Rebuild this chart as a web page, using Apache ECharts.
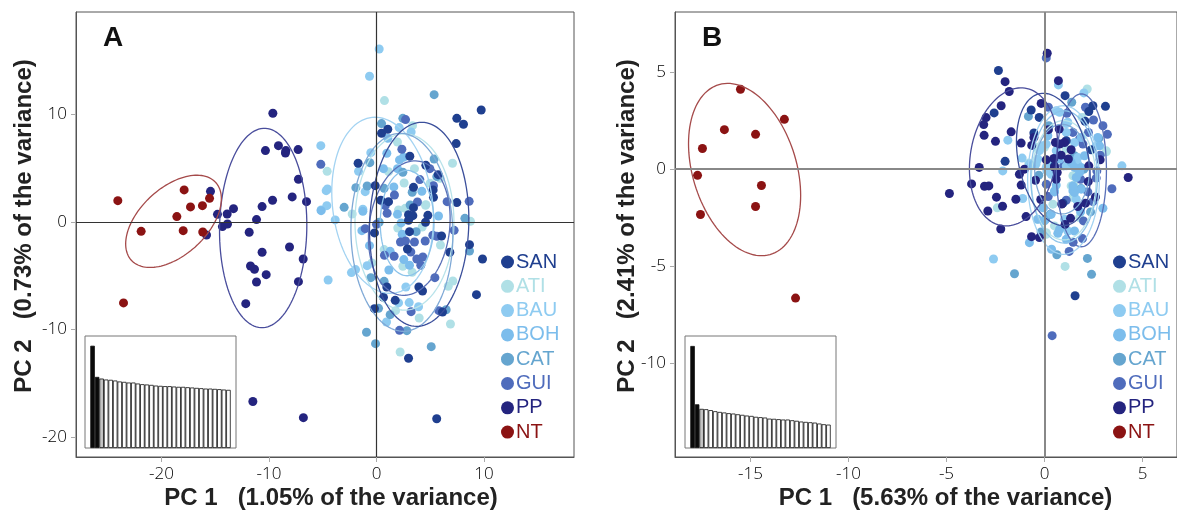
<!DOCTYPE html>
<html><head><meta charset="utf-8">
<style>html,body{margin:0;padding:0;background:#fff}#c{width:1177px;height:510px}</style>
<script src="https://cdn.jsdelivr.net/npm/echarts@6/dist/echarts.min.js"></script>
</head><body><div id="c"></div>
<script>
const groupNames = ['SAN','ATI','BAU','BOH','CAT','GUI','PP','NT'];
const xTicksA = [-20,-10,0,10];
const yTicksA = [-20,-10,0,10];
const xTicksB = [-15,-10,-5,0,5];
const yTicksB = [-10,-5,0,5];

const ntA = [[-24.06,1.98],[-17.89,2.98],[-15.53,2.2],[-17.3,1.4],[-16.19,1.52],[-18.57,0.5],[-21.89,-0.87],[-17.98,-0.81],[-16.16,-0.93],[-23.53,-7.53]];
const ppA = [[-9.64,10.11],[-9.12,7.1],[-10.33,6.64],[-8.43,6.64],[-8.47,6.42],[-7.29,6.73],[-7.26,3.97],[-7.84,2.33],[-9.67,2.02],[-6.51,1.89],[-10.64,1.43],[-13.3,1.24],[-15.44,2.85],[-14.79,0.71],[-13.89,0.74],[-11.16,0.22],[-14.33,-0.43],[-13.86,-0.19],[-15.81,-1.21],[-11.84,-0.96],[-8.09,-2.33],[-10.64,-2.82],[-6.82,-3.44],[-11.72,-4.09],[-11.35,-4.4],[-10.26,-4.9],[-11.16,-5.58],[-7.26,-5.55],[-12.16,-7.6],[-11.5,-16.7],[-6.8,-18.2]];
const sanA = [[9.74,10.42],[7.47,9.64],[8.09,9.09],[0.47,8.25],[1.05,8.62],[7.41,7.29],[-1.71,5.46],[3.1,6.11],[4.59,5.27],[5.74,4.4],[-0.12,3.38],[3.44,3.22],[5.27,2.98],[5.3,2.29],[7.47,1.8],[0.4,2.02],[1.12,1.89],[3.44,1.33],[2.98,0.68],[3.38,0.59],[2.98,0.16],[4.78,0.62],[4.56,-0.03],[3.07,-0.9],[-0.19,-1.02],[6.05,-1.3],[2.88,-2.51],[8.65,-2.11],[6.82,-2.82],[9.86,-3.44],[3.94,-6.05],[4.28,-6.42],[0.96,-6.05],[0.65,-7.01],[1.74,-7.29],[-0.19,-8.06],[6.14,-8.37],[9.3,-6.76],[2.98,-12.68],[5.6,-18.3]];
const guiA = [[2.7,9.52],[-5.18,5.36],[2.36,6.76],[4.96,4.96],[4.03,3.94],[1.67,2.51],[5.3,3.38],[6.57,1.89],[8.62,1.92],[3.81,1.86],[0.81,1.52],[0.99,0.81],[0,-0.22],[-1.05,-0.62],[2.23,-1.86],[2.7,-1.77],[3.53,-1.86],[4.53,-1.77],[5.24,-1.24],[5.61,-1.33],[7.22,-0.78],[0.74,-3.1],[1.64,-3.19],[3.19,-2.79],[3.75,-3.44],[4.31,-3.26],[4.12,-4.03],[5.43,-5.18],[3.22,-8.34],[5.8,-8.25],[2.14,-10.08]];
const catA = [[5.36,11.84],[0.47,9.15],[2.45,9.64],[-0.62,5.52],[5.36,5.86],[2.45,4.62],[-1.92,3.19],[-0.87,3.35],[0.71,3.13],[3.32,2.76],[-3.01,1.36],[3.13,1.58],[5.61,4.22],[8.22,0.34],[0.25,-0.03],[3.69,-0.9],[8.65,-2.7],[-0.53,-5.18],[0.71,-5.52],[0.19,-8.03],[1.27,-8.62],[2.82,-10.11],[-0.93,-10.26],[-0.09,-11.32],[5.09,-11.6],[6.48,-8.16]];
const atiA = [[0.74,11.29],[3.35,8.96],[1.95,7.44],[7.07,5.46],[-4.59,4.71],[3.53,4.96],[2.57,3.63],[5.92,4.06],[4.56,1.55],[2.05,1.12],[2.67,1.27],[4.99,3.6],[1.12,4.68],[-2.26,0.74],[8.74,0.06],[4.59,1.61],[1.98,-0.56],[4.25,-0.47],[5.95,-2.14],[0.71,-2.57],[2.45,-4.12],[3.32,-4.68],[7.1,-5.49],[6.67,-5.98],[1.77,-8.25],[3.97,-8.93],[6.88,-9.49],[2.2,-12.09],[-0.43,-3.81]];
const bauA = [[0.25,16.09],[-0.65,13.55],[-5.18,7.1],[-1.67,4.71],[-0.53,6.45],[2.11,8.78],[3.22,8.37],[-4.68,2.91],[-4.56,3.07],[-4.62,1.52],[-1.05,2.82],[-5.15,1.12],[-1.27,1.18],[-3.84,0.19],[-2.33,-4.71],[-1.95,-4.43],[-4.5,-5.4],[-0.87,-4.06],[2.73,-6.05],[3.04,-7.5],[3.91,-7.88],[0.93,-9.3],[2.05,-7.53]];
const bohA = [[0.96,6.39],[1.05,7.78],[0.65,4.96],[2.14,5.77],[1.95,4.96],[1.61,3.26],[4.22,2.85],[2.51,6.02],[1.95,0.71],[5.77,0.56],[-5.15,1.05],[-1.36,-0.81],[-1.27,0.99],[3.07,-4.03],[1.15,-4.47],[2.54,-3.5],[1.27,-2.73],[2.29,-0.09],[-0.65,-2.2],[2.39,-1.15]];

const ntB = [[-15.51,4.11],[-16.33,2.03],[-14.74,1.79],[-13.27,2.56],[-17.45,1.06],[-17.7,-0.32],[-14.44,-0.84],[-14.74,-1.92],[-17.55,-2.33],[-12.7,-6.63]];
const ppB = [[0.14,5.96],[0.71,4.55],[-2.01,4.5],[-1.8,3.99],[-2.21,3.26],[-2.98,2.65],[-3.1,2.29],[-3.08,1.74],[-1.7,1.92],[-2.5,1.43],[-1.19,1.34],[-0.65,1.22],[-0.17,3.38],[-3.33,0.09],[-1.02,0],[0.48,0.55],[0.09,0.48],[0.56,1.37],[1.02,1.37],[0.77,1.29],[1.36,1],[0.85,0.72],[1.22,0.52],[0.51,0.09],[0.75,2.06],[0.2,2.03],[-0.54,1.63],[2.26,0.17],[2.84,0.48],[-4.85,-1.25],[-3.72,-0.76],[-3.06,-0.88],[-2.84,-0.86],[-2.45,-1.44],[-2.89,-2.15],[-2.14,-1.91],[-1.46,-1.55],[-1.19,-0.82],[-0.46,-0.57],[-0.19,-1.56],[-0.94,-2.44],[-2.23,-3.08],[-0.66,-3.47],[-0.26,-3.52],[-1.28,-0.26],[0.6,-0.52],[0.88,-1.79],[1.33,-2.53],[1.05,-2.84],[1.7,-1.92],[2.09,-1.75],[2.6,-1.43],[2.23,-0.64],[4.27,-0.43],[0.65,-0.17]];
const sanB = [[-2.35,5.07],[-2.57,2.89],[-2.01,0.4],[-0.68,3.04],[-0.27,2.66],[1.05,3.78],[2.47,3.26],[3.11,3.23],[2.26,2.96],[2.07,2.46],[2.38,1],[-0.54,1.86],[1.11,1.46],[1.56,-6.51],[0.94,-1.75],[0.51,0.17]];
const guiB = [[0.09,5.72],[0.2,3.18],[2.09,3.18],[2.5,2.53],[1.14,2.87],[2.98,2.23],[3.21,1.79],[2.24,1.89],[1.45,1.89],[1.79,1.55],[1.96,1.29],[0.97,0.17],[2.67,-0.09],[2.84,0.72],[0.39,-8.56],[3.44,-1.01],[1.11,-1.6],[0.19,-1.41],[0.09,-0.77],[1.94,-3.57],[1.46,-3.76],[1.26,-4.23],[1.99,-2.66],[2.47,-1.67],[1.84,-0.52],[2.64,-0.46],[2.21,-1.17]];
const catB = [[-0.82,2.71],[1.39,3.44],[0.22,2.23],[2.77,1.58],[1.53,0.69],[2.01,0],[-1.53,-5.38],[2.19,-4.59],[2.4,-5.41],[0.63,-4.4],[-0.17,-3.23],[0.29,-2.32],[0.05,-2.58],[1.87,-1],[2.35,-2.2],[-0.29,-0.31]];
const bauB = [[0.71,4.33],[2.01,3.92],[-1.87,1.49],[-1.14,0.57],[-2.13,-0.09],[3.95,0.17],[0.77,2.92],[1.11,2.35],[0.09,1.29],[-0.26,0.95],[0.6,0.95],[1.11,0.17],[1.7,0.6],[1.62,0.09],[-0.34,0.52],[2.64,1.2],[-2.6,-4.62],[-1.11,-1.51],[0.34,-0.26],[1.62,-1.55],[1.02,-2.58],[0.12,-0.09],[1.19,-3.18],[0.17,1.98],[1.19,2.41],[0.6,3.0],[1.11,1.89],[1.53,1.37],[1.7,0.26],[-0.09,1.2],[-0.43,0.26],[-0.77,0.26],[0.09,0.09],[0.26,0.26]];
const bohB = [[0.17,1.72],[1.36,0.34],[-0.68,0.17],[1.87,0.09],[0.77,0.52],[2.04,0.69],[-0.77,-3.78],[2.98,-2.01],[0.36,-4.12],[0.51,-1.17],[-0.05,-1.98],[1.53,-3.18],[0.68,-3.3],[1.11,-3.61],[1.45,-1.12],[1.84,-2.2],[0.6,-0.82],[1.62,-0.43],[1.53,0.09],[1.79,-0.17],[1.87,1.63],[1.53,-1.2],[1.45,-0.86],[0.51,-1.12],[-0.09,-1.98],[0.34,-2.32],[-0.34,-2.58],[0,-2.66],[0.77,-3.09],[1.87,-1.03],[2.72,1.63],[2.81,1.2]];
const atiB = [[2.18,4.12],[1.92,2.66],[3.15,0.89],[-0.8,0.31],[-0.34,1.03],[1.11,1.03],[-2.41,-1.99],[1.05,-5],[-0.37,-2.58],[0.09,-3.35],[1.5,-0.82],[0.43,-1.8],[0.77,-3.09],[1.45,-1.46],[1.79,-2.49],[1.36,-0.86],[-0.34,1.12],[0,1.12],[0.09,-3.27],[3.15,0.94],[0.51,-2.92],[1.45,-0.34]];

// ellipses: centre x, centre y, half width, half height, tilt correlation
const ellipsesA = {
  BAU:[0.57,1.55,4.73,8.19,-0.15], BOH:[2.85,-0.1,2.5,4.9,0], ATI:[2.6,0,4.6,8.2,0], CAT:[2.36,-0.96,4.74,9.21,-0.03],
  GUI:[3.05,-0.57,3.8,6.25,0.14], SAN:[3.97,-0.22,4.62,9.49,0.05], PP:[-10.54,-0.56,4.06,9.27,0.03], NT:[-18.88,0.06,4.45,4.29,0.49]
};
const ellipsesB = {
  ATI:[0.98,-0.57,1.65,3.07,0], BAU:[0.97,-0.56,1.83,3.82,0], BOH:[1.0,-0.4,1.7,3.4,0], CAT:[0.9,0,1.4,2.3,0],
  GUI:[1.88,-0.06,1.28,3.93,0], SAN:[0.45,0.5,1.88,3.4,-0.27], PP:[-1.58,0.63,2.25,3.55,0.17], NT:[-15.3,-0.02,2.86,4.43,-0.3]
};
const eigenA = [1.05,0.73,0.713,0.703,0.70,0.693,0.683,0.679,0.672,0.672,0.662,0.655,0.652,0.648,0.641,0.638,0.635,0.635,0.631,0.628,0.628,0.624,0.621,0.617,0.614,0.61,0.61,0.607,0.604,0.60,0.597];
const eigenB = [5.63,2.41,2.16,2.14,2.09,2.03,1.99,1.96,1.92,1.90,1.86,1.83,1.79,1.77,1.72,1.70,1.68,1.62,1.61,1.59,1.57,1.57,1.53,1.50,1.46,1.44,1.42,1.40,1.35,1.31,1.29];

const colors = {SAN:'#1f3f8f',ATI:'#b0e0e6',BAU:'#8ecbf1',BOH:'#7cbdec',CAT:'#65a5cf',GUI:'#4f6cbc',PP:'#24247f',NT:'#8b1313'};
const lineColors = {SAN:'#3b4f9b',ATI:'#b8e3ea',BAU:'#a3d3f2',BOH:'#8cc3ea',CAT:'#7fa9d6',GUI:'#5a70b8',PP:'#494d9c',NT:'#a54a4a'};
const drawOrderA = ['ATI','BAU','BOH','CAT','GUI','SAN','PP','NT'];
const drawOrderB = ['ATI','CAT','GUI','BAU','BOH','SAN','PP','NT'];
const pointsA = {SAN:sanA,ATI:atiA,BAU:bauA,BOH:bohA,CAT:catA,GUI:guiA,PP:ppA,NT:ntA};
const pointsB = {SAN:sanB,ATI:atiB,BAU:bauB,BOH:bohB,CAT:catB,GUI:guiB,PP:ppB,NT:ntB};

const tickFont = {fontFamily:'"Open Sans"',fontWeight:300,fontSize:17,color:'#000'};
function valueAxis(grid,min,max,ticks,pos){
  return {type:'value',gridIndex:grid,position:pos,min,max,scale:true,splitLine:{show:false},
    axisLine:{show:true,onZero:false,lineStyle:{color:'#555',width:1}},
    axisTick:{show:true,length:5,customValues:ticks,lineStyle:{color:'#aaa'}},
    axisLabel:Object.assign({show:true,customValues:ticks,margin:9},tickFont)};
}
function hidden(grid,min,max){return {type:'value',gridIndex:grid,min,max,show:false,scale:true,splitLine:{show:false}};}
function ellipseSeries(name,e,ax){
  return {type:'custom',name:name+' ellipse',xAxisIndex:ax,yAxisIndex:ax,silent:true,z:4,
    data:[e],dimensions:['cx','cy','hw','hh','rho'],encode:{x:0,y:1},clip:true,
    renderItem(p,api){
      const cx=api.value(0),cy=api.value(1),hw=api.value(2),hh=api.value(3),r=api.value(4),pts=[];
      for(let i=0;i<=120;i++){const t=i/120*2*Math.PI;
        pts.push(api.coord([cx+hw*Math.cos(t),cy+hh*(r*Math.cos(t)+Math.sqrt(1-r*r)*Math.sin(t))]));}
      return {type:'polyline',shape:{points:pts},style:{stroke:lineColors[name],fill:'none',lineWidth:1.3}};
    }};
}
function zeroLines(ax,col,w){
  return {type:'scatter',name:'zero',xAxisIndex:ax,yAxisIndex:ax,data:[],silent:true,z:1,
    markLine:{silent:true,symbol:'none',label:{show:false},animation:false,
      lineStyle:{color:col,width:w,type:'solid'},data:[{xAxis:0},{yAxis:0}]}};
}
function insetSeries(vals,ax){
  return {type:'bar',name:'eigen',xAxisIndex:ax,yAxisIndex:ax,barWidth:4.55,silent:true,z:5,
    data:vals.map((v,i)=>({value:[i+1,v],itemStyle:{color:i<2?'#0a0a0a':(i==2?'#c4c4c4':'#ffffff'),borderColor:'#111',borderWidth:0.8}}))};
}
function legendOf(left){
  return {orient:'vertical',left,top:247,icon:'circle',itemWidth:13,itemHeight:13,itemGap:4.3,selectedMode:false,
    textStyle:{fontFamily:'"Liberation Sans"',fontSize:20,padding:[0,0,0,-3]},
    data:groupNames.map(n=>({name:n,textStyle:{color:n==='ATI'?'#b0e0e6':colors[n]}}))};
}
const series=[zeroLines(0,'#333',1.2),zeroLines(1,'#888',2)];
[[pointsA,ellipsesA,drawOrderA,0],[pointsB,ellipsesB,drawOrderB,1]].forEach(([pts,ell,order,ax])=>{
  order.forEach(n=>series.push(ellipseSeries(n,ell[n],ax)));
  order.forEach(n=>series.push({type:'scatter',name:n,xAxisIndex:ax,yAxisIndex:ax,data:pts[n],symbolSize:9,z:3,
    itemStyle:{color:colors[n],opacity:1}}));
});
series.push(insetSeries(eigenA,2),insetSeries(eigenB,3));
const boldTitle={fontFamily:'"Liberation Sans"',fontWeight:'bold',fontSize:24,fill:'#222',textAlign:'center',textVerticalAlign:'middle'};
const option={animation:false,backgroundColor:'#fff',
  grid:[
    {left:76,top:12,width:498,height:445,show:true,borderColor:'#555',borderWidth:1,backgroundColor:'transparent'},
    {left:675,top:12,width:502,height:445,show:true,borderColor:'#555',borderWidth:1,backgroundColor:'transparent'},
    {left:85,top:336,width:151,height:112,show:true,borderColor:'#777',borderWidth:1,backgroundColor:'#fff',z:4},
    {left:685,top:336,width:151,height:112,show:true,borderColor:'#777',borderWidth:1,backgroundColor:'#fff',z:4}
  ],
  xAxis:[valueAxis(0,-27.95,18.37,xTicksA,'bottom'),valueAxis(1,-18.85,6.76,xTicksB,'bottom'),hidden(2,-0.67,32.67),hidden(3,-0.67,32.67)],
  yAxis:[valueAxis(0,-21.86,19.53,yTicksA,'left'),valueAxis(1,-14.8,8.08,yTicksB,'left'),hidden(2,0,1.15),hidden(3,0,6.18)],
  legend:[legendOf(496),legendOf(1108)],
  series,
  graphic:[
    {type:'text',left:103,top:24,style:{text:'A',fontFamily:'"Liberation Sans"',fontWeight:'bold',fontSize:28,fill:'#111'}},
    {type:'text',left:702,top:24,style:{text:'B',fontFamily:'"Liberation Sans"',fontWeight:'bold',fontSize:28,fill:'#111'}},
    {type:'text',x:331,y:498,style:Object.assign({text:'PC 1   (1.05% of the variance)'},boldTitle)},
    {type:'text',x:945.5,y:498,style:Object.assign({text:'PC 1   (5.63% of the variance)'},boldTitle)},
    {type:'text',x:24,y:226,rotation:Math.PI/2,style:Object.assign({text:'PC 2   (0.73% of the variance)'},boldTitle)},
    {type:'text',x:627,y:226,rotation:Math.PI/2,style:Object.assign({text:'PC 2   (2.41% of the variance)'},boldTitle)}
  ]
};
echarts.init(document.getElementById('c'),null,{renderer:'canvas'}).setOption(option);
</script></body></html>
